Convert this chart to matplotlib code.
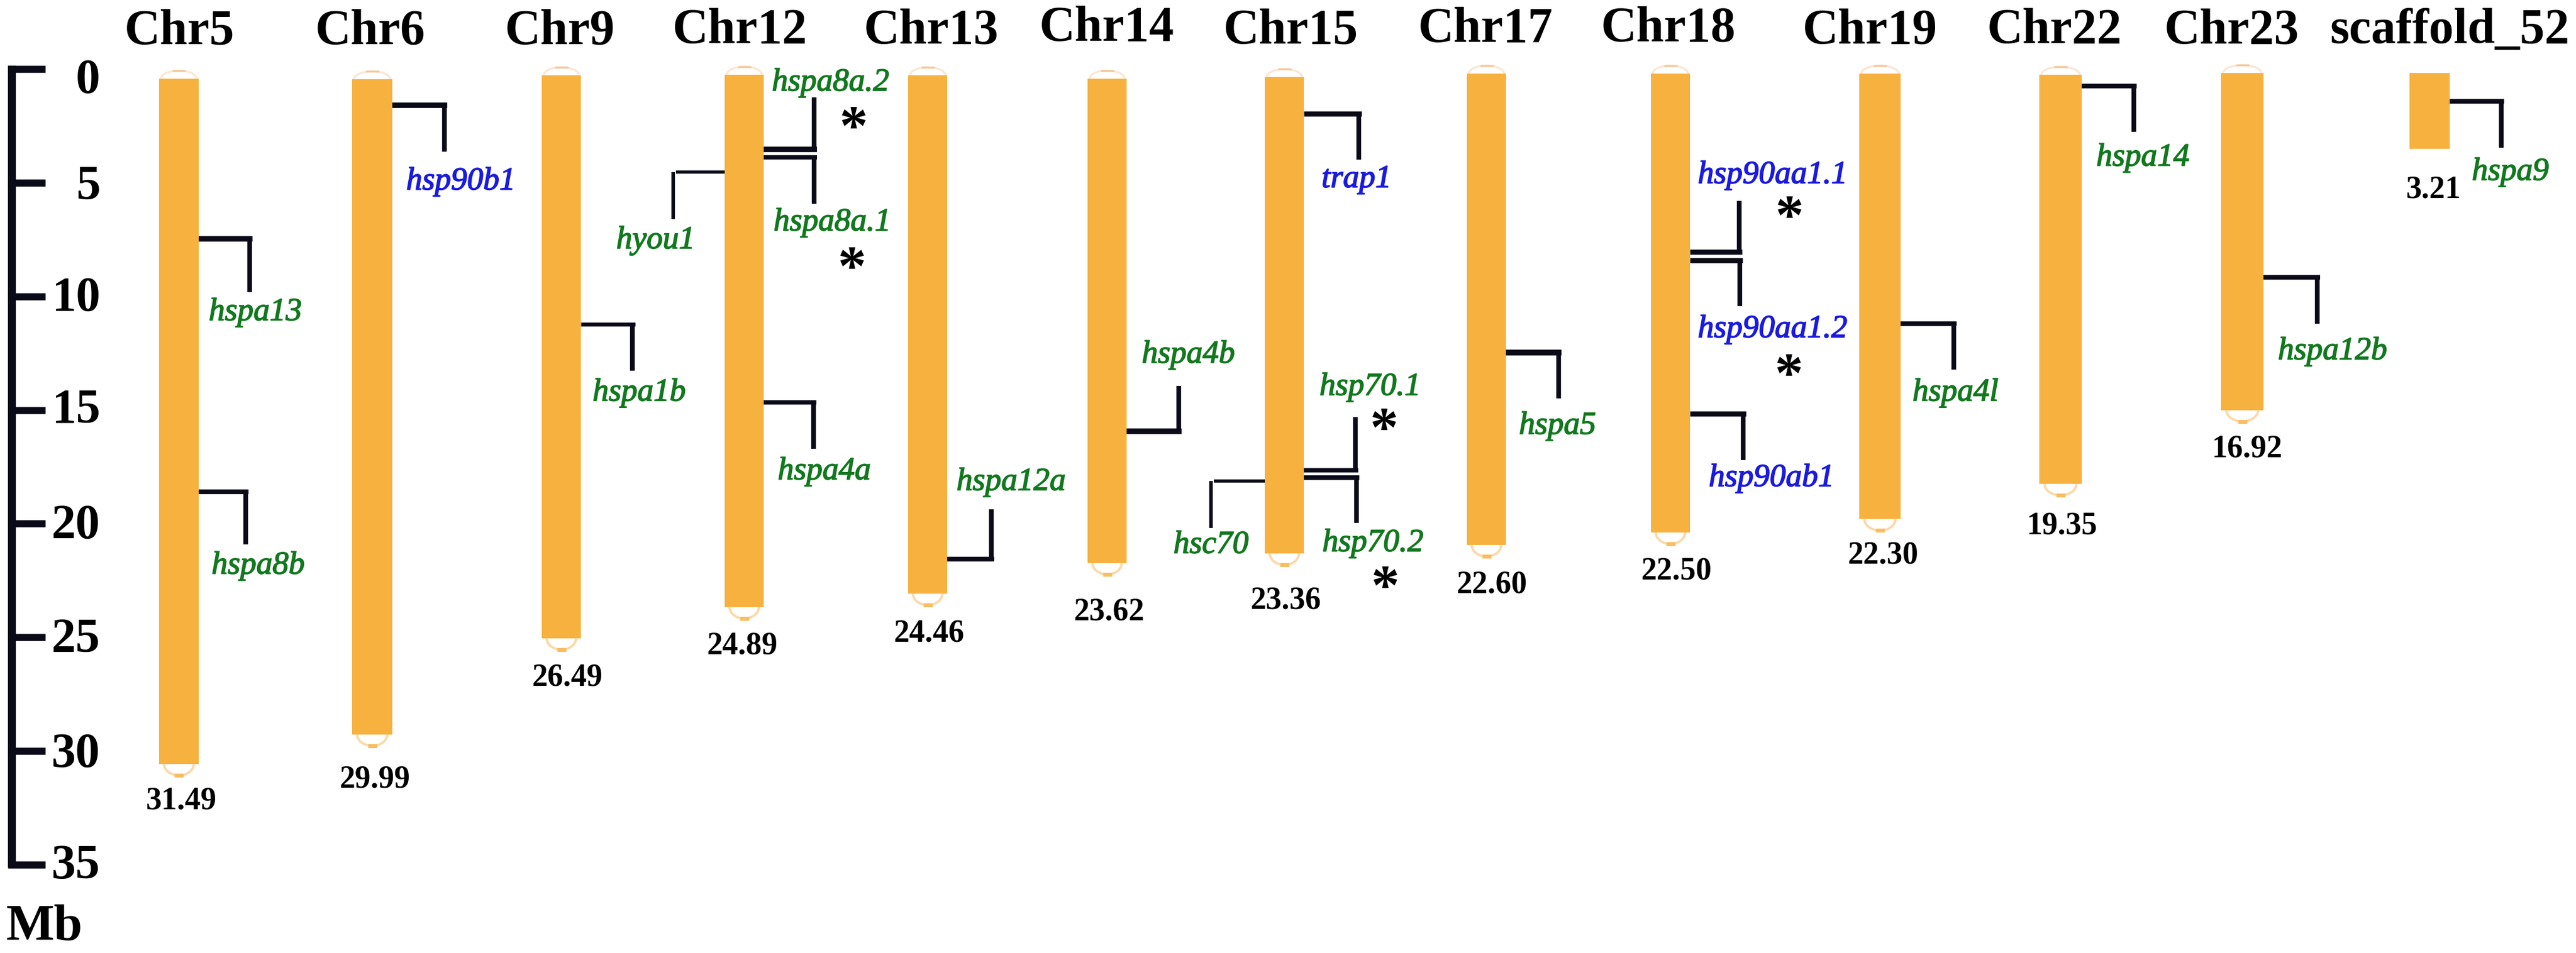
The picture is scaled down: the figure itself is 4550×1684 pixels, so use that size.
import matplotlib
matplotlib.use("Agg")
import matplotlib.pyplot as plt
import matplotlib.patheffects as pe
from matplotlib.patches import Arc

plt.rcParams['font.family'] = ['Liberation Serif', 'DejaVu Serif']

# chromosomes (name, top and bottom of the bar in Mb, printed length)
chroms = ['Chr5', 'Chr6', 'Chr9', 'Chr12', 'Chr13', 'Chr14', 'Chr15', 'Chr17', 'Chr18', 'Chr19', 'Chr22', 'Chr23', 'scaffold_52']
bar_top = [0.42, 0.45, 0.27, 0.25, 0.27, 0.42, 0.35, 0.20, 0.20, 0.20, 0.25, 0.18, 0.18]
bar_bottom = [30.57, 29.27, 25.04, 23.67, 23.08, 21.73, 21.31, 20.94, 20.39, 19.80, 18.25, 15.00, 3.51]
lengths = ['31.49', '29.99', '26.49', '24.89', '24.46', '23.62', '23.36', '22.60', '22.50', '22.30', '19.35', '16.92', '3.21']

# genes: chromosome index, position (Mb), end of the connector (Mb), name
gene_chr = [0, 0, 1, 2, 3, 3, 3, 3, 4, 5, 6, 6, 6, 6, 7, 8, 8, 8, 9, 10, 11, 12]
gene_pos = [7.47, 18.6, 1.6, 11.23, 3.53, 3.88, 4.53, 14.67, 21.56, 15.93, 1.97, 17.65, 17.97, 18.12, 12.47, 8.03, 8.41, 15.16, 11.2, 0.74, 9.17, 1.42]
gene_end = [9.8, 20.9, 3.63, 13.27, 1.25, 5.92, 6.6, 16.7, 19.37, 13.94, 3.98, 15.31, 19.97, 20.2, 14.49, 5.79, 10.44, 17.2, 13.22, 2.77, 11.2, 3.45]
gene_name = ['hspa13', 'hspa8b', 'hsp90b1', 'hspa1b', 'hspa8a.2', 'hspa8a.1', 'hyou1', 'hspa4a', 'hspa12a', 'hspa4b', 'trap1', 'hsp70.1', 'hsp70.2', 'hsc70', 'hspa5', 'hsp90aa1.1', 'hsp90aa1.2', 'hsp90ab1', 'hspa4l', 'hspa14', 'hspa12b', 'hspa9']
blue_genes = ['hsp90b1', 'trap1', 'hsp90aa1.1', 'hsp90aa1.2', 'hsp90ab1']

scale_ticks = [0, 5, 10, 15, 20, 25, 30, 35]

# layout, x in pixels of the 4550 wide picture
bar_left = [281, 622, 957, 1280, 1604, 1921, 2234, 2591, 2916, 3284, 3602, 3923, 4256]
bar_w = [70, 71, 69, 69, 69, 69, 69, 69, 69, 73, 75, 75, 71]
title_x = [317, 654, 989, 1307, 1645, 1955, 2280, 2624, 2947, 3303, 3629, 3942, 4327]
title_y = [-1.1, -1.1, -1.1, -1.14, -1.14, -1.25, -1.12, -1.2, -1.22, -1.14, -1.14, -1.14, -1.14]
length_x = [320, 662, 1002, 1311, 1641, 1959, 2271, 2635, 2961, 3326, 3642, 3969, 4298]
length_y = [1416, 1377, 1197, 1141, 1120, 1081, 1062, 1034, 1009, 981, 930, 794, 336]
gene_x = [441, 434, 785, 1117, 1438, 1438, 1189, 1437, 1751, 2082, 2400, 2394, 2396, 2139, 2753, 3072, 3073, 3079, 3451, 3769, 4093, 4418]
label_x = [451, 456, 814, 1129, 1467, 1470, 1158, 1456, 1786, 2099, 2396, 2420, 2425, 2139, 2751, 3131, 3131, 3129, 3454, 3785, 4120, 4434]
label_y = [10.7, 21.85, 4.95, 14.24, 0.6, 6.75, 7.54, 17.7, 18.17, 12.57, 4.85, 13.99, 20.86, 20.94, 15.7, 4.67, 11.45, 18.0, 14.24, 3.9, 12.42, 4.53]
# connector thickness in points, horizontal part
gene_lw = [7, 6, 7, 5, 7, 5.5, 4, 5.5, 6, 7, 6.5, 5.5, 6, 4, 7.5, 6.5, 6.5, 6.5, 6, 6, 6, 6]
star_x = [1508, 1505, 2445, 2447, 3161, 3160]
star_y = [2.1, 8.26, 15.36, 22.3, 6.02, 12.97]
tick_text_y = [0.4, 0.08, 0.0, -0.08, 0.0, 0.0, 0.07, -0.02]

fig = plt.figure(figsize=(45.5, 16.84), dpi=100)
ax = fig.add_axes([0, 0, 1, 1])
ax.set_xlim(0, 4550)
# 0 Mb sits at y=122 and 1 Mb takes 40.17 pixels
ax.set_ylim((1684 - 122) / 40.17, -122 / 40.17)
ax.axis('off')


def py(p):
    # pixel row of the picture to Mb
    return (p - 122) / 40.17


GREEN = '#12781f'
BLUE = '#1a1ae0'
ORANGE = '#f7b13f'
LINE = '#0a0a18'

# chromosome bars with the little white caps
for i, name in enumerate(chroms):
    left = bar_left[i]
    w = bar_w[i]
    cx = left + w / 2
    ax.bar(cx, bar_bottom[i] - bar_top[i], bottom=bar_top[i], width=w, color=ORANGE, linewidth=0)
    if name != 'scaffold_52':
        ax.add_patch(Arc((cx, bar_top[i]), w * 0.9, 0.7, theta1=180, theta2=360, color='#fbe6d2', lw=2.5))
        ax.plot([cx - 10, cx + 10], [bar_top[i] - 0.35, bar_top[i] - 0.35], color='#f5c89a', lw=2.5)
        ax.add_patch(Arc((cx, bar_bottom[i]), w * 0.75, 1.0, theta1=0, theta2=180, color='#fbd9a8', lw=3))
        ax.plot([cx - 8, cx + 8], [bar_bottom[i] + 0.5, bar_bottom[i] + 0.5], color='#f8bd60', lw=5, solid_capstyle='butt')
    ax.text(title_x[i], title_y[i], name, fontsize=63, ha='center', va='baseline', color='black', fontweight='bold')
    ax.text(length_x[i], py(length_y[i]), lengths[i], fontsize=40, ha='center', va='center', color='black', fontweight='bold')

# connectors and gene names
for i, name in enumerate(gene_name):
    c = gene_chr[i]
    xelbow = gene_x[i]
    if name in ('hyou1', 'hsc70'):
        xstart = bar_left[c]
    else:
        xstart = bar_left[c] + bar_w[c]
    ax.plot([xstart, xelbow + 5], [gene_pos[i], gene_pos[i]], color=LINE, lw=gene_lw[i], solid_capstyle='butt')
    ax.plot([xelbow, xelbow], [gene_pos[i], gene_end[i]], color=LINE, lw=4.5 if gene_lw[i] == 4 else 6, solid_capstyle='butt')
    col = BLUE if name in blue_genes else GREEN
    ax.text(label_x[i], label_y[i], name, fontsize=41, style='italic', ha='center', va='center', color=col,
            path_effects=[pe.withStroke(linewidth=1.2, foreground=col)])

for sx, sy in zip(star_x, star_y):
    ax.text(sx, sy + 0.6, '*', fontsize=72, ha='center', va='center', color='black', fontweight='bold')

# scale on the left
ax.plot([20.5, 20.5], [py(116), py(1533)], color=LINE, lw=10, solid_capstyle='butt')
for t, off in zip(scale_ticks, tick_text_y):
    ax.plot([14, 80], [t, t], color=LINE, lw=9, solid_capstyle='butt')
    ax.text(177, t + off + 0.12, str(t), fontsize=62, ha='right', va='center', color='black', fontweight='bold')
ax.text(10, py(1639), 'Mb', fontsize=65, ha='left', va='center', color='black', fontweight='bold')

fig.savefig('out.png', dpi=100, facecolor='white')
